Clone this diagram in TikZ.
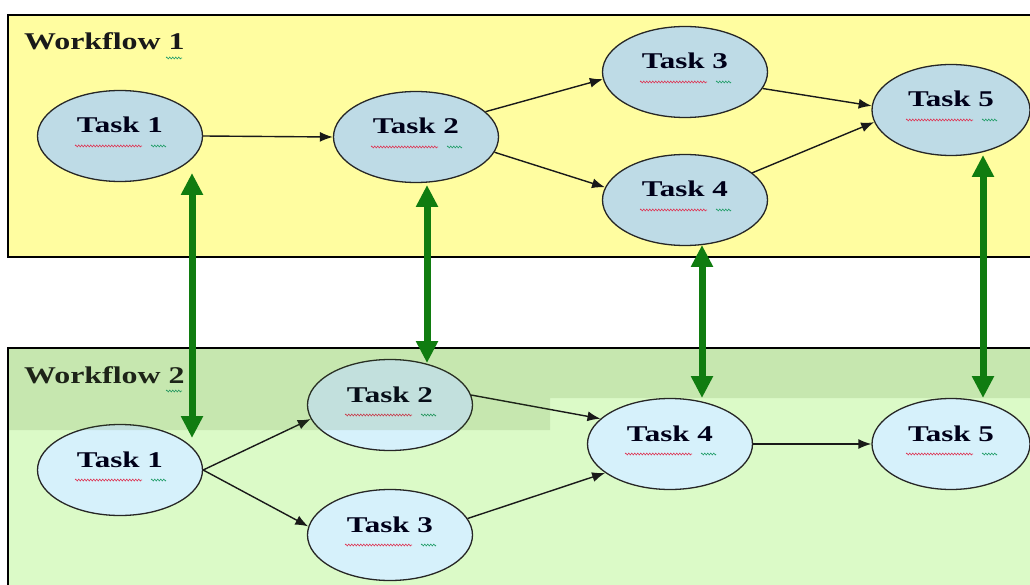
\documentclass[tikz,border=0pt]{standalone}
\usepackage{fontspec}
\newfontfamily\tf[FakeStretch=1.38]{Liberation Serif}
\newfontfamily\wfont[FakeStretch=1.33]{Liberation Serif}
\usetikzlibrary{shapes.geometric,arrows.meta,decorations.pathmorphing}
\definecolor{wfyellow}{RGB}{255,253,160}
\definecolor{wfgreen}{RGB}{219,250,199}
\definecolor{bandtint}{RGB}{60,110,20}
\definecolor{blueA}{RGB}{190,219,230}
\definecolor{blueB}{RGB}{214,241,251}
\definecolor{linkgreen}{RGB}{16,124,16}
\definecolor{sqred}{RGB}{220,60,90}
\definecolor{sqgreen}{RGB}{40,160,110}
\tikzset{
  panel/.style={draw=black, line width=1.6pt},
  task/.style={ellipse, draw=black!85, line width=1.3pt, minimum width=165pt,
    minimum height=91pt, inner sep=0pt, text=black!90!blue,
    font=\tf\bfseries\fontsize{22.5}{22.5}\selectfont, text height=10pt, text depth=16pt},
  taskA/.style={task, fill=blueA},
  taskB/.style={task, fill=blueB},
  title/.style={anchor=base west, inner sep=0pt, text=black!90,
    font=\wfont\bfseries\fontsize{24}{24}\selectfont},
  flow/.style={draw=black!90, line width=1.4pt, -{Latex[length=13pt,width=10pt]}},
  link/.style={draw=linkgreen, line width=7pt,
    {Triangle[length=22pt,width=21pt]}-{Triangle[length=22pt,width=21pt]}},
  squig/.style={decorate, decoration={zigzag, segment length=3pt, amplitude=1pt}, line width=0.6pt},
}
\newcommand{\spell}[1]{%
  \draw[squig, sqred] ([shift={(-45,10)}]#1.center) -- ++(67,0);
  \draw[squig, sqgreen] ([shift={(31,10)}]#1.center) -- ++(15,0);}
\begin{document}
\begin{tikzpicture}[x=1pt,y=-1pt]
\useasboundingbox (0,0) rectangle (1030,585);
\clip (0,0) rectangle (1030,585);
\fill[white] (0,0) rectangle (1030,585);
% panels
\filldraw[panel, fill=wfyellow] (8,15) rectangle (1040,257);
\filldraw[panel, fill=wfgreen] (8,348) rectangle (1040,600);
\node[title] (wf1) at (24,50) {Workflow 1};
\node[title] (wf2) at (24,383) {Workflow 2};
\draw[squig, sqgreen] (166,58) -- (182,58);
\draw[squig, sqgreen] (166,391) -- (182,391);
% workflow 1 tasks
\node[taskA] (a1) at (120,136) {Task 1};
\node[taskA] (a2) at (416,137) {Task 2};
\node[taskA] (a3) at (685,72) {Task 3};
\node[taskA] (a4) at (685,200) {Task 4};
\node[taskA, minimum width=158pt] (a5) at (951,110) {Task 5};
\spell{a1}\spell{a2}\spell{a3}\spell{a4}\spell{a5}
\draw[flow] (a1.east) -- (a2.west);
\draw[flow] (a2.20) -- (a3.185);
\draw[flow] (a2.-11) -- (a4.171);
\draw[flow] (a3.-12) -- (a5.177);
\draw[flow] (a4.22) -- (a5.189);
% workflow 2 tasks
\node[taskB] (b1) at (120,470) {Task 1};
\node[taskB] (b2) at (390,405) {Task 2};
\node[taskB] (b3) at (390,535) {Task 3};
\node[taskB] (b4) at (670,444) {Task 4};
\node[taskB, minimum width=158pt] (b5) at (951,444) {Task 5};
\spell{b1}\spell{b2}\spell{b3}\spell{b4}\spell{b5}
\draw[flow] (b1.east) -- (b2.190);
\draw[flow] (b1.east) -- (b3.174);
\draw[flow] (b2.7) -- (b4.160);
\draw[flow] (b3.12) -- (b4.204);
\draw[flow] (b4.east) -- (b5.west);
% darker band at top of workflow 2
\fill[bandtint, fill opacity=0.13] (9,349) -- (1030,349) -- (1030,398) -- (550,398) -- (550,430) -- (9,430) -- cycle;
% links between workflows
\coordinate (l1t) at (192,173); \coordinate (l1b) at (192,438);
\coordinate (l2t) at (427,185); \coordinate (l2b) at (427,363);
\coordinate (l3t) at (702,245); \coordinate (l3b) at (702,398);
\coordinate (l4t) at (983,155); \coordinate (l4b) at (983,398);
\draw[link] (l1t) -- (l1b);
\draw[link] (l2t) -- (l2b);
\draw[link] (l3t) -- (l3b);
\draw[link] (l4t) -- (l4b);
\end{tikzpicture}
\end{document}
